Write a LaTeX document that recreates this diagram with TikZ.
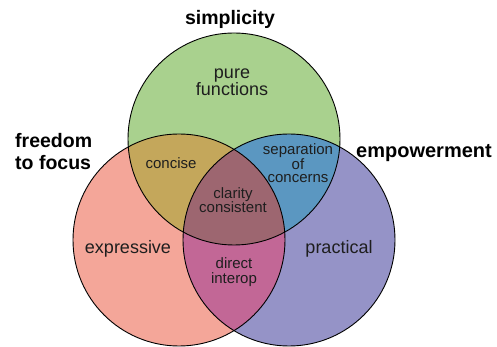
\documentclass[tikz,border=0pt]{standalone}
\usepackage{fontspec}
\setmainfont{Liberation Sans}
\definecolor{cgreen}{HTML}{A9D18E}
\definecolor{cred}{HTML}{F4A699}
\definecolor{cpurple}{HTML}{9593C7}
\definecolor{cgr}{HTML}{C4A75B}
\definecolor{cgp}{HTML}{5B97C1}
\definecolor{crp}{HTML}{C26796}
\definecolor{call}{HTML}{9D6670}
\definecolor{ctext}{HTML}{1E1E1E}
\begin{document}
\begin{tikzpicture}[x=1pt,y=1pt,
  ring/.style={draw=black,line width=0.9pt},
  title/.style={inner sep=0pt,font=\fontsize{19.5}{22}\selectfont\bfseries,text=black},
  big/.style={inner sep=0pt,font=\fontsize{18}{17}\selectfont,text=ctext,align=center},
  small/.style={inner sep=0pt,font=\fontsize{15}{14.4}\selectfont,text=ctext,align=center}]
\useasboundingbox (0,0) rectangle (497,347);
\def\R{106}
\coordinate (g) at (234,208);
\coordinate (r) at (179,107);
\coordinate (p) at (289,107);
\fill[cgreen] (g) circle (\R);
\fill[cred] (r) circle (\R);
\fill[cpurple] (p) circle (\R);
\begin{scope}\clip (g) circle (\R); \fill[cgr] (r) circle (\R);\end{scope}
\begin{scope}\clip (g) circle (\R); \fill[cgp] (p) circle (\R);\end{scope}
\begin{scope}\clip (r) circle (\R); \fill[crp] (p) circle (\R);\end{scope}
\begin{scope}\clip (g) circle (\R); \clip (r) circle (\R); \fill[call] (p) circle (\R);\end{scope}
\draw[ring] (g) circle (\R);
\draw[ring] (r) circle (\R);
\draw[ring] (p) circle (\R);
% titles
\node[title,anchor=base] (simp) at (230,322) {simplicity};
\node[title,anchor=west,align=left] (free) at (15,195) {freedom\\to focus};
\node[title,anchor=base west,font=\fontsize{20}{22}\selectfont\bfseries] (emp) at (356,189.7) {empowerment};
% regions
\node[big] (pure) at (232,265) {pure\\functions};
\node[big,anchor=base] (expr) at (128,93.7) {expressive};
\node[big,anchor=base] (prac) at (339,93.7) {practical};
\node[small,anchor=base] (conc) at (171,178.7) {concise};
\node[small,font=\fontsize{15}{13}\selectfont] (sep) at (298,183.5) {separation\\of\\concerns};
\node[small] (clar) at (233,147) {clarity\\consistent};
\node[small,font=\fontsize{15}{15}\selectfont] (dir) at (234,75.1) {direct\\interop};
\end{tikzpicture}
\end{document}
